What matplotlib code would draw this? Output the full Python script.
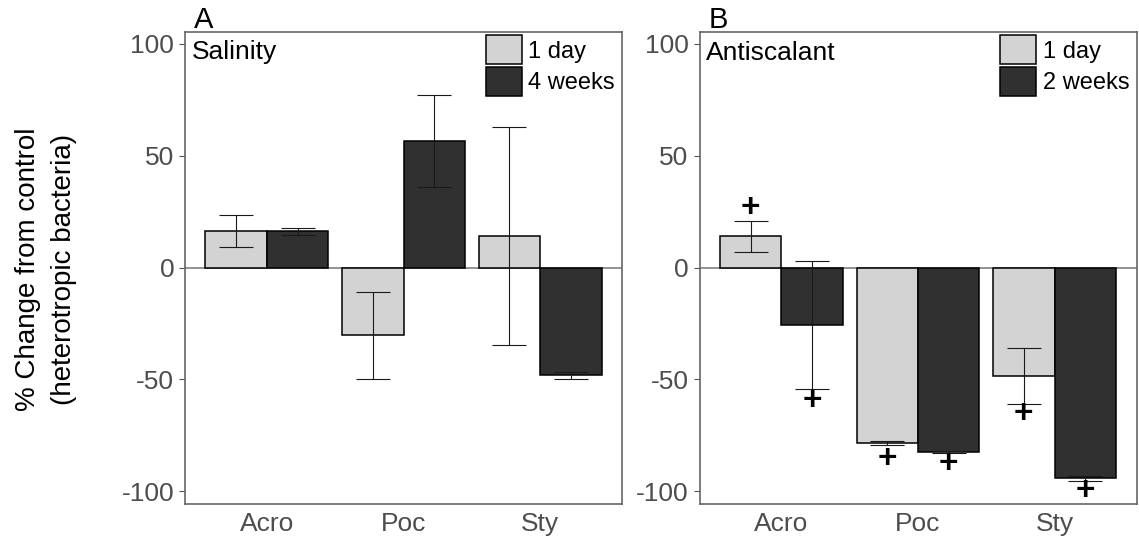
import matplotlib
matplotlib.use("Agg")
import matplotlib.pyplot as plt
from matplotlib.patches import Patch
import numpy as np

plt.rcParams['font.family'] = ['Liberation Sans', 'DejaVu Sans']

# ---------------- data ----------------
categories = ["Acro", "Poc", "Sty"]

sal_labels = ["1 day", "4 weeks"]
sal_day_mean = [16.4, -30.3, 14.1]
sal_day_se = [7.0, 19.3, 48.6]
sal_week_mean = [16.2, 56.6, -48.2]
sal_week_se = [1.5, 20.6, 1.7]

anti_labels = ["1 day", "2 weeks"]
anti_day_mean = [13.9, -78.5, -48.6]
anti_day_se = [6.9, 1.0, 12.6]
anti_week_mean = [-25.7, -82.4, -94.2]
anti_week_se = [28.5, 0.3, 1.0]

# significance markers ("+") : y positions per bar
anti_day_sig_y = [26.4, -86.0, -65.9]
anti_week_sig_y = [-59.9, -88.0, -99.9]

yticks = [-100, -50, 0, 50, 100]

# ---------------- style ----------------
W, H = 1139, 543
DPI = 100
light = "#D3D3D3"
dark = "#303030"
fs_tick = 19
fs_note = 19
fs_leg = 17

fig = plt.figure(figsize=(W / DPI, H / DPI), dpi=DPI)

ax_w = 437.0 / W
ax_b = 1 - 504.0 / H
ax_h = 472.0 / H
axA = fig.add_axes([185.0 / W, ax_b, ax_w, ax_h])
axB = fig.add_axes([699.5 / W, ax_b, ax_w, ax_h])

bw = 0.45
x = np.arange(1, len(categories) + 1)


def draw_panel(ax, m1, s1, m2, s2, labels, title):
    ax.axhline(0, color="#808080", lw=1.2, zorder=1)
    ax.bar(x - bw / 2, m1, width=bw, color=light, edgecolor="black", lw=1.1, zorder=2)
    ax.bar(x + bw / 2, m2, width=bw, color=dark, edgecolor="black", lw=1.1, zorder=2)
    ax.errorbar(x - bw / 2, m1, yerr=s1, fmt="none", ecolor="#1a1a1a", elinewidth=0.8,
                capsize=12, capthick=0.8, zorder=3)
    ax.errorbar(x + bw / 2, m2, yerr=s2, fmt="none", ecolor="#1a1a1a", elinewidth=0.8,
                capsize=12, capthick=0.8, zorder=3)
    ax.set_xlim(0.4, 3.6)
    ax.set_ylim(-105.7, 105.3)
    ax.set_xticks(x)
    ax.set_xticklabels(categories)
    ax.set_yticks(yticks)
    ax.set_yticklabels([str(t) for t in yticks])
    ax.tick_params(axis="x", length=0, pad=6, labelsize=fs_tick, labelcolor="#4D4D4D")
    ax.tick_params(axis="y", length=4.3, width=0.8, color="#555555", pad=3.5,
                   labelsize=fs_tick, labelcolor="#4D4D4D")
    for sp in ax.spines.values():
        sp.set_color("#666666")
        sp.set_linewidth(1.2)
    ax.text(6.5 / 437.0, 1 - 27.5 / 472.0, title, transform=ax.transAxes,
            fontsize=fs_note, color="black", ha="left", va="baseline")
    handles = [Patch(facecolor=light, edgecolor="black", lw=1.1),
               Patch(facecolor=dark, edgecolor="black", lw=1.1)]
    ax.legend(handles, labels, loc="upper right",
              bbox_to_anchor=(1 - 7.0 / 437.0, 1 - 3.5 / 472.0),
              frameon=False, fontsize=fs_leg, handlelength=1.52, handleheight=1.5,
              labelspacing=0.12, handletextpad=0.28, borderpad=0, borderaxespad=0)


draw_panel(axA, sal_day_mean, sal_day_se, sal_week_mean, sal_week_se, sal_labels, "Salinity")
draw_panel(axB, anti_day_mean, anti_day_se, anti_week_mean, anti_week_se, anti_labels, "Antiscalant")

for xi, yi in zip(x - bw / 2, anti_day_sig_y):
    axB.text(xi, yi, "+", ha="center", va="center", fontsize=24, fontweight="bold", zorder=4)
for xi, yi in zip(x + bw / 2, anti_week_sig_y):
    axB.text(xi, yi, "+", ha="center", va="center", fontsize=24, fontweight="bold", zorder=4)

fig.text(194.0 / W, 1 - 28.0 / H, "A", fontsize=21, ha="left", va="baseline")
fig.text(709.0 / W, 1 - 28.0 / H, "B", fontsize=21, ha="left", va="baseline")

fig.text(46.0 / W, 1 - 269.0 / H, "% Change from control\n(heterotropic bacteria)",
         rotation=90, ha="center", va="center", multialignment="center",
         fontsize=20, linespacing=1.5, color="black")

fig.savefig("out.png", dpi=DPI)
